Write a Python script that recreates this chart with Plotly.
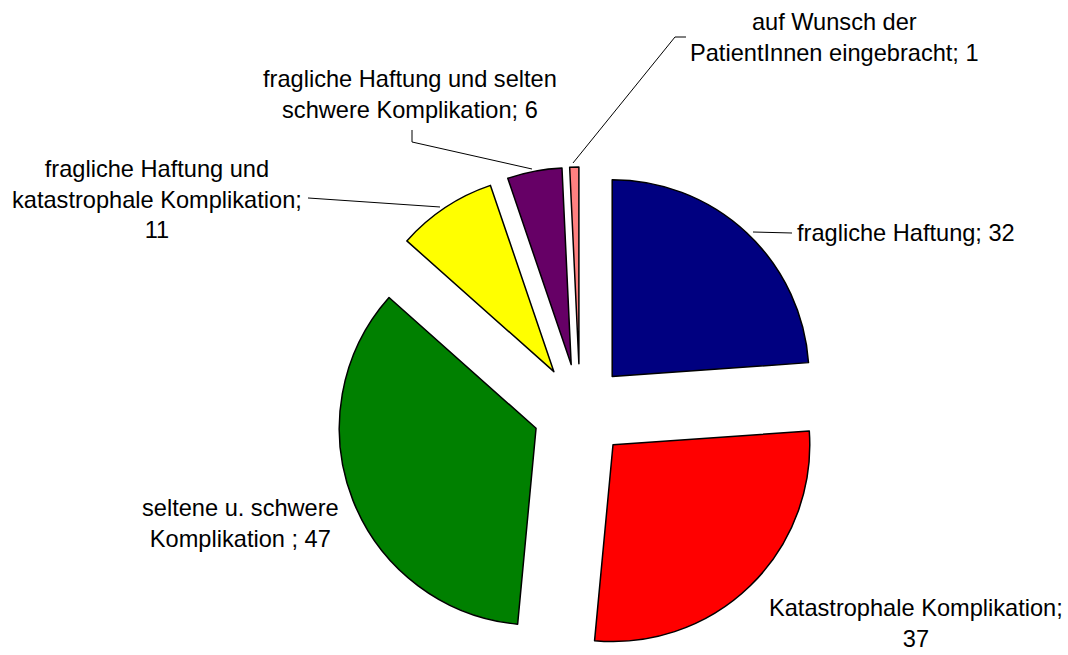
import plotly.graph_objects as go

# ---- data ----
categories = [
    "fragliche Haftung",
    "Katastrophale Komplikation",
    "seltene u. schwere Komplikation ",
    "fragliche Haftung und katastrophale Komplikation",
    "fragliche Haftung und selten schwere Komplikation",
    "auf Wunsch der PatientInnen eingebracht",
]
values = [32, 37, 47, 11, 6, 1]
colors = ["#000080", "#FF0000", "#008000", "#FFFF00", "#660066", "#FF8080"]

# ---- label layout (style, not data) ----
W, H = 1068, 655
# word counts per line for wrapping "name; value"
line_words = [[3], [2, 1], [3, 3], [3, 2, 1], [4, 3], [3, 3]]
# label anchor (pixels) and x anchor
label_pos = [(795, 233, "left"), (916, 623, "center"), (240, 523, "center"),
             (157, 199, "center"), (410, 94, "center"), (834, 38, "center")]
# leader lines (pixels), None if no line
leaders = [
    [(753, 232), (792, 233)],
    None,
    None,
    [(440, 207), (308, 198)],
    [(532, 169), (412, 142), (412, 130)],
    [(573, 163), (675, 37), (686, 37)],
]

FONT = dict(family="Liberation Sans, Arial, sans-serif", size=23.6, color="black")


def px(x, y):
    return x / W, 1 - y / H


def wrap(cat, val, counts):
    words = f"{cat}; {val}".split(" ")
    lines, i = [], 0
    for c in counts:
        lines.append(" ".join(words[i:i + c]))
        i += c
    if i < len(words):
        lines.append(" ".join(words[i:]))
    return "<br>".join(lines)


cx, cy = 580, 411
half_w, half_h = 260, 244
fig = go.Figure(go.Pie(
    labels=categories,
    values=values,
    sort=False,
    direction="clockwise",
    rotation=0,
    pull=[0.24] * len(values),
    marker=dict(colors=colors, line=dict(color="black", width=1.5)),
    textinfo="none",
    hoverinfo="label+value",
    showlegend=False,
    domain=dict(x=[(cx - half_w) / W, (cx + half_w) / W],
                y=[(H - cy - half_h) / H, (H - cy + half_h) / H]),
))

annotations = []
for cat, val, counts, (lx, ly, anc) in zip(categories, values, line_words, label_pos):
    x, y = px(lx, ly)
    annotations.append(dict(
        x=x, y=y, xref="paper", yref="paper", showarrow=False,
        text=wrap(cat, val, counts), xanchor=anc, yanchor="middle",
        align="center", font=FONT,
    ))

shapes = []
for pts in leaders:
    if not pts:
        continue
    path = ""
    for k, (x, y) in enumerate(pts):
        X, Y = px(x, y)
        path += ("M" if k == 0 else " L") + f" {X:.5f} {Y:.5f}"
    shapes.append(dict(type="path", path=path, xref="paper", yref="paper",
                       line=dict(color="black", width=1)))

fig.update_layout(
    width=W, height=H,
    margin=dict(l=0, r=0, t=0, b=0),
    paper_bgcolor="white", plot_bgcolor="white",
    annotations=annotations, shapes=shapes,
    font=FONT,
)

fig.write_html("out.html", config={"displayModeBar": False},
               post_script="document.body.style.margin='0';document.body.style.overflow='hidden';")
